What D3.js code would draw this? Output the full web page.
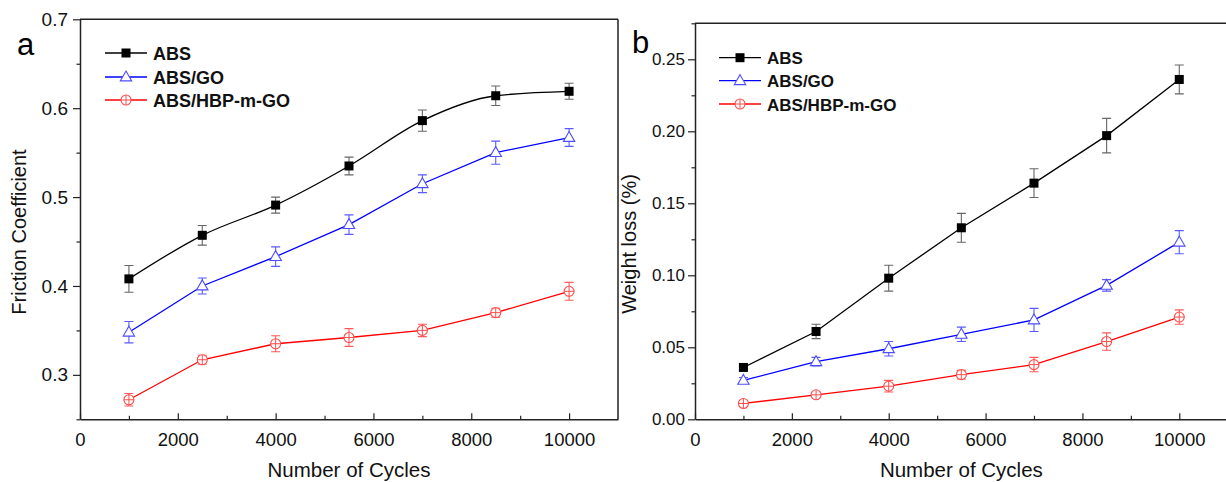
<!DOCTYPE html>
<html>
<head>
<meta charset="utf-8">
<script src="https://cdn.jsdelivr.net/npm/d3@7"></script>
<style>
  html, body { margin: 0; padding: 0; background: #fff; }
  svg { display: block; font-family: "Liberation Sans", Arial, sans-serif; }
</style>
</head>
<body>
<svg id="chart" width="1226" height="482"></svg>
<script>
// Wear test results: friction coefficient and weight loss vs. number of cycles
const cycles = [1000, 2500, 4000, 5500, 7000, 8500, 10000];
const seriesNames = ["ABS", "ABS/GO", "ABS/HBP-m-GO"];

const frictionABS    = [0.408, 0.457, 0.491, 0.535, 0.586, 0.614, 0.619];
const frictionABSErr = [0.015, 0.011, 0.009, 0.010, 0.012, 0.011, 0.009];
const frictionGO     = [0.348, 0.400, 0.433, 0.469, 0.515, 0.550, 0.567];
const frictionGOErr  = [0.012, 0.009, 0.011, 0.011, 0.010, 0.013, 0.010];
const frictionHBP    = [0.272, 0.317, 0.335, 0.342, 0.350, 0.370, 0.394];
const frictionHBPErr = [0.007, 0.005, 0.009, 0.010, 0.007, 0.005, 0.010];

const weightABS    = [0.036, 0.061, 0.098, 0.133, 0.164, 0.197, 0.236];
const weightABSErr = [0.002, 0.005, 0.009, 0.010, 0.010, 0.012, 0.010];
const weightGO     = [0.027, 0.040, 0.049, 0.059, 0.069, 0.093, 0.123];
const weightGOErr  = [0.002, 0.003, 0.005, 0.005, 0.008, 0.004, 0.008];
const weightHBP    = [0.011, 0.017, 0.023, 0.031, 0.038, 0.054, 0.071];
const weightHBPErr = [0.001, 0.002, 0.004, 0.003, 0.005, 0.006, 0.005];

const xTicks = [0, 2000, 4000, 6000, 8000, 10000];
const frictionTicks = [0.3, 0.4, 0.5, 0.6, 0.7];
const weightTicks = [0.00, 0.05, 0.10, 0.15, 0.20, 0.25];

const styles = [
  { line: "#000000", err: "#666666", marker: "square",   mstroke: "#000000" },
  { line: "#0000ff", err: "#5a5aff", marker: "triangle", mstroke: "#4d4dff" },
  { line: "#ff0000", err: "#ff5a5a", marker: "circle",   mstroke: "#ff4d4d" }
];

const svg = d3.select("#chart");
const FONT = "'Liberation Sans', Arial, sans-serif";

function drawMarker(g, type, cx, cy, st) {
  if (type === "square") {
    g.append("rect").attr("x", cx - 4.5).attr("y", cy - 4.5)
      .attr("width", 9).attr("height", 9).attr("fill", "#000");
  } else if (type === "triangle") {
    const r = 6;
    g.append("path")
      .attr("d", `M${cx},${cy - r} L${cx + r * 0.95},${cy + r * 0.65} L${cx - r * 0.95},${cy + r * 0.65} Z`)
      .attr("fill", "#fff").attr("stroke", st.mstroke).attr("stroke-width", 1.1);
  } else {
    const r = 5;
    g.append("circle").attr("cx", cx).attr("cy", cy).attr("r", r)
      .attr("fill", "#fff").attr("stroke", st.mstroke).attr("stroke-width", 1.1);
    g.append("path")
      .attr("d", `M${cx - r},${cy} H${cx + r} M${cx},${cy - r} V${cy + r}`)
      .attr("stroke", st.mstroke).attr("stroke-width", 1);
  }
}

function panel(cfg) {
  const x = d3.scaleLinear().domain([0, 11000]).range(cfg.xRange);
  const y = d3.scaleLinear().domain(cfg.yDomain).range(cfg.yRange);
  const g = svg.append("g");

  // frame
  const [x0, x1] = cfg.xRange, [yb, yt] = cfg.yRange;
  g.append("path")
    .attr("d", `M${x0},${yt} H${x1} M${x1},${yt} V${yb}`)
    .attr("fill", "none").attr("stroke", "#222").attr("stroke-width", 1.5);

  // bottom axis: ticks point into the plot
  const xAxis = g.append("g").attr("transform", `translate(0,${yb})`)
    .call(d3.axisBottom(x).tickValues(xTicks).tickFormat(d3.format("d"))
      .tickSizeInner(-6).tickSizeOuter(0).tickPadding(14));
  const xMinor = g.append("g").attr("transform", `translate(0,${yb})`)
    .call(d3.axisBottom(x).tickValues(d3.range(1000, 11000, 2000)).tickFormat("")
      .tickSizeInner(-3.5).tickSizeOuter(0));
  xMinor.select(".domain").remove();

  // left axis: ticks point outward
  const yAxis = g.append("g").attr("transform", `translate(${x0},0)`)
    .call(d3.axisLeft(y).tickValues(cfg.yTicks).tickFormat(d3.format(cfg.yFormat))
      .tickSizeInner(7).tickSizeOuter(0).tickPadding(cfg.yPad));
  const yMinor = g.append("g").attr("transform", `translate(${x0},0)`)
    .call(d3.axisLeft(y).tickValues(cfg.yMinor).tickFormat("")
      .tickSizeInner(3.5).tickSizeOuter(0));
  yMinor.select(".domain").remove();

  [xAxis, yAxis, xMinor, yMinor].forEach(a => {
    a.selectAll(".domain").attr("stroke", "#222").attr("stroke-width", 1.5);
    a.selectAll(".tick line").attr("stroke", "#222").attr("stroke-width", 1.2);
  });
  xAxis.selectAll("text").attr("font-family", FONT).attr("font-size", 18.5).attr("fill", "#111");
  yAxis.selectAll("text").attr("font-family", FONT).attr("font-size", cfg.yFont).attr("fill", "#111");

  // axis titles
  g.append("text").attr("x", (x0 + x1) / 2).attr("y", 477)
    .attr("text-anchor", "middle").attr("font-family", FONT).attr("font-size", 20.5)
    .attr("fill", "#111").text("Number of Cycles");
  g.append("text")
    .attr("transform", `translate(${cfg.yTitleX},${cfg.yTitleY}) rotate(-90)`)
    .attr("text-anchor", "middle").attr("font-family", FONT).attr("font-size", 20)
    .attr("fill", "#111").text(cfg.yTitle);

  // panel letter
  g.append("text").attr("x", cfg.letterX).attr("y", cfg.letterY)
    .attr("font-family", FONT).attr("font-size", 31).attr("fill", "#000").text(cfg.letter);

  // series
  cfg.series.forEach((vals, si) => {
    const st = styles[si];
    const errs = cfg.errors[si];
    const pts = cycles.map((c, i) => [x(c), y(vals[i])]);
    const curve = (cfg.smooth && cfg.smooth[si]) ? d3.curveMonotoneX : d3.curveLinear;
    g.append("path").attr("d", d3.line().curve(curve)(pts))
      .attr("fill", "none").attr("stroke", st.line).attr("stroke-width", 1.3);

    // error bars
    cycles.forEach((c, i) => {
      const cx = x(c), top = y(vals[i] + errs[i]), bot = y(vals[i] - errs[i]);
      g.append("path")
        .attr("d", `M${cx},${top} V${bot} M${cx - 4.5},${top} H${cx + 4.5} M${cx - 4.5},${bot} H${cx + 4.5}`)
        .attr("fill", "none").attr("stroke", st.err).attr("stroke-width", 1.1);
    });
    cycles.forEach((c, i) => drawMarker(g, st.marker, x(c), y(vals[i]), st));
  });

  // legend
  seriesNames.forEach((name, si) => {
    const st = styles[si];
    const ly = cfg.legendY[si];
    const lx = cfg.legendX;
    g.append("line").attr("x1", lx).attr("x2", lx + 42).attr("y1", ly).attr("y2", ly)
      .attr("stroke", st.line).attr("stroke-width", 1.3);
    drawMarker(g, st.marker, lx + 21, ly, st);
    g.append("text").attr("x", lx + 48).attr("y", ly + 6.5)
      .attr("font-family", FONT).attr("font-size", cfg.legendFont).attr("font-weight", "bold")
      .attr("fill", "#111").text(name);
  });
}

panel({
  xRange: [80, 618], yRange: [419.3, 19.3], yDomain: [0.25, 0.7],
  yTicks: frictionTicks, yMinor: [0.25, 0.35, 0.45, 0.55, 0.65], yFormat: ".1f",
  yFont: 19, yPad: 5,
  yTitle: "Friction Coefficient", yTitleX: 26, yTitleY: 232,
  letter: "a", letterX: 17, letterY: 55,
  series: [frictionABS, frictionGO, frictionHBP],
  errors: [frictionABSErr, frictionGOErr, frictionHBPErr],
  smooth: [true, false, false],
  legendX: 105, legendY: [53, 77, 100], legendFont: 18
});

panel({
  xRange: [695, 1227.7], yRange: [419.3, 23.3], yDomain: [0, 0.275],
  yTicks: weightTicks, yMinor: [0.025, 0.075, 0.125, 0.175, 0.225, 0.275], yFormat: ".2f",
  yFont: 17, yPad: 3,
  yTitle: "Weight loss (%)", yTitleX: 636, yTitleY: 244,
  letter: "b", letterX: 632, letterY: 53,
  series: [weightABS, weightGO, weightHBP],
  errors: [weightABSErr, weightGOErr, weightHBPErr],
  smooth: [false, false, false],
  legendX: 719, legendY: [57.7, 80.7, 104], legendFont: 17
});
</script>
</body>
</html>
